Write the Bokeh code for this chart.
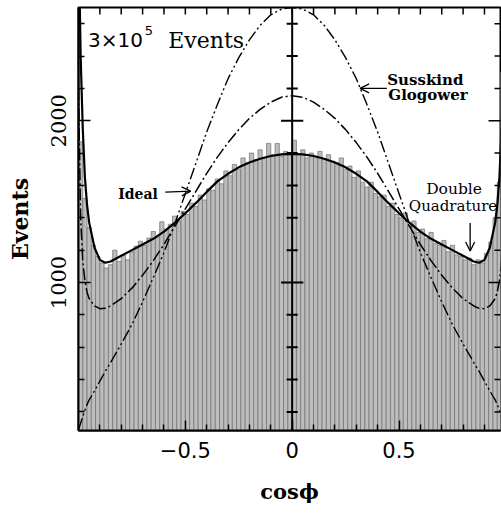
import numpy as np
from bokeh.plotting import figure
from bokeh.models import Range1d, LinearAxis, FixedTicker, Span, Arrow, OpenHead, ColumnDataSource
from bokeh.core.properties import value
from bokeh.embed import file_html
from bokeh.resources import INLINE

# ---------------- data ----------------
# histogram: 100 bins of width 0.02 over cos(phi) in [-1, 1]
bin_centers = list(np.round(np.linspace(-0.99, 0.99, 100), 2))
counts = [1870, 1520, 1340, 1230, 1160, 1120, 1090, 1110, 1200, 1130,
          1170, 1140, 1190, 1225, 1255, 1230, 1275, 1315, 1280, 1375,
          1330, 1360, 1410, 1380, 1440, 1420, 1490, 1470, 1540, 1510,
          1580, 1570, 1640, 1610, 1690, 1660, 1730, 1700, 1770, 1740,
          1800, 1760, 1820, 1770, 1860, 1790, 1860, 1780, 1810, 1800,
          1880, 1790, 1820, 1770, 1800, 1780, 1810, 1760, 1790, 1750,
          1740, 1770, 1700, 1720, 1650, 1690, 1620, 1590, 1620, 1550,
          1530, 1540, 1470, 1490, 1420, 1400, 1430, 1350, 1380, 1310,
          1330, 1270, 1310, 1240, 1230, 1260, 1190, 1230, 1170, 1160,
          1140, 1150, 1110, 1140, 1120, 1180, 1250, 1400, 1620, 2300]

# theory curves sampled at these cos(phi) values
curve_x = [-1.0, -0.99, -0.98, -0.97, -0.96, -0.95, -0.925, -0.9, -0.875, -0.85,
           -0.8, -0.75, -0.7, -0.65, -0.6, -0.55, -0.5, -0.45, -0.4, -0.35,
           -0.3, -0.25, -0.2, -0.15, -0.1, -0.05, 0.0,
           0.05, 0.1, 0.15, 0.2, 0.25, 0.3, 0.35, 0.4, 0.45, 0.5,
           0.55, 0.6, 0.65, 0.7, 0.75, 0.8, 0.85, 0.875, 0.9, 0.925,
           0.95, 0.96, 0.97, 0.98, 0.99, 1.0]

double_quadrature = [3200, 2400, 1950, 1650, 1480, 1370, 1215, 1140, 1122, 1130,
                     1165, 1200, 1235, 1270, 1315, 1368, 1428, 1492, 1560, 1625,
                     1672, 1712, 1742, 1765, 1782, 1792, 1795,
                     1792, 1782, 1765, 1742, 1712, 1672, 1625, 1560, 1492, 1428,
                     1368, 1315, 1270, 1235, 1200, 1165, 1130, 1122, 1140, 1215,
                     1370, 1480, 1650, 1950, 2400, 3200]

ideal = [2200, 1400, 1130, 1010, 940, 900, 855, 838, 840, 855,
         900, 965, 1045, 1135, 1235, 1345, 1455, 1565, 1675, 1775,
         1865, 1945, 2015, 2070, 2115, 2145, 2155,
         2145, 2115, 2070, 2015, 1945, 1865, 1775, 1675, 1565, 1455,
         1345, 1235, 1135, 1045, 965, 900, 855, 840, 838, 855,
         900, 940, 1010, 1130, 1400, 2200]

susskind_glogower = [90, 130, 170, 210, 245, 275, 330, 390, 450, 505,
                     620, 740, 880, 1030, 1185, 1360, 1550, 1740, 1930, 2100,
                     2260, 2390, 2500, 2590, 2655, 2690, 2700,
                     2690, 2655, 2590, 2500, 2390, 2260, 2100, 1930, 1740, 1550,
                     1360, 1185, 1030, 880, 740, 620, 505, 450, 390, 330,
                     275, 245, 210, 170, 130, 90]

x_major = [-0.5, 0.0, 0.5]
x_minor = [-0.9, -0.8, -0.7, -0.6, -0.4, -0.3, -0.2, -0.1,
           0.1, 0.2, 0.3, 0.4, 0.6, 0.7, 0.8, 0.9]
x_labels = {-0.5: "\u22120.5", 0.0: "0", 0.5: "0.5"}
y_major = [1000, 2000]
y_minor = [200, 400, 600, 800, 1200, 1400, 1600, 1800, 2200, 2400, 2600]

X0, X1, Y0, Y1 = -1.0, 0.975, 85, 2700

# ---------------- figure ----------------
p = figure(frame_width=422, frame_height=423,
           x_range=Range1d(X0, X1), y_range=Range1d(Y0, Y1),
           output_backend="svg", toolbar_location=None,
           x_axis_type=None, y_axis_type=None,
           min_border_left=78, min_border_right=1,
           min_border_top=7, min_border_bottom=86)
p.background_fill_color = "white"
p.border_fill_color = "white"
p.outline_line_color = "black"
p.outline_line_width = 2

# histogram bars
p.vbar(x=bin_centers, top=counts, bottom=0, width=0.02,
       fill_color="#bdbdbd", line_color="#6f6f6f", line_width=0.7)

# center vertical axis line with crossing ticks
p.add_layout(Span(location=0, dimension="height", line_color="black", line_width=2))
cmaj = ColumnDataSource(dict(y=y_major))
cmin = ColumnDataSource(dict(y=y_minor))
p.segment(x0=-0.052, x1=0.052, y0="y", y1="y", source=cmaj, line_color="black", line_width=2)
p.segment(x0=-0.026, x1=0.026, y0="y", y1="y", source=cmin, line_color="black", line_width=2)

# inward ticks on the top and right borders (mirrors of bottom/left ticks)
top_src = ColumnDataSource(dict(x=x_major + x_minor))
p.segment(x0="x", x1="x", y0=Y1, y1=Y1 - 43, source=top_src, line_color="black", line_width=1.5)
p.segment(x0=X1 - 0.056, x1=X1, y0="y", y1="y", source=cmaj, line_color="black", line_width=1.5)
p.segment(x0=X1 - 0.028, x1=X1, y0="y", y1="y", source=cmin, line_color="black", line_width=1.5)

# curves
p.line(curve_x, double_quadrature, line_color="black", line_width=2.2)
p.line(curve_x, ideal, line_color="black", line_width=1.5, line_dash="12 3 2 3")
p.line(curve_x, susskind_glogower, line_color="black", line_width=1.4, line_dash="12 3 2 3 2 3")

# ---------------- axes ----------------
xb = LinearAxis(ticker=FixedTicker(ticks=x_major, minor_ticks=x_minor))
xb.major_label_overrides = x_labels
xb.major_tick_in = 10
xb.major_tick_out = 0
xb.minor_tick_in = 6
xb.minor_tick_out = 0
xb.axis_line_width = 2
xb.major_tick_line_width = 1.5
xb.minor_tick_line_width = 1.5
xb.major_label_text_font = "DejaVu Sans"
xb.major_label_text_font_size = "21px"
xb.major_label_text_color = "black"
xb.major_label_standoff = 11
xb.axis_label = "cos\u03d5"
xb.axis_label_text_font = "DejaVu Serif"
xb.axis_label_text_font_style = "bold"
xb.axis_label_text_font_size = "21px"
xb.axis_label_text_color = "black"
xb.axis_label_standoff = 18
p.add_layout(xb, "below")

yl = LinearAxis(ticker=FixedTicker(ticks=y_major, minor_ticks=y_minor))
yl.major_tick_in = 12
yl.major_tick_out = 0
yl.minor_tick_in = 6
yl.minor_tick_out = 0
yl.axis_line_width = 2
yl.major_tick_line_width = 1.5
yl.minor_tick_line_width = 1.5
yl.major_label_orientation = "vertical"
yl.major_label_text_font = "DejaVu Serif"
yl.major_label_text_font_size = "21px"
yl.major_label_text_color = "black"
yl.major_label_standoff = 12
yl.axis_label = "Events"
yl.axis_label_text_font = "DejaVu Serif"
yl.axis_label_text_font_style = "bold"
yl.axis_label_text_font_size = "22px"
yl.axis_label_text_color = "black"
yl.axis_label_standoff = 16
p.add_layout(yl, "left")

# ---------------- annotations ----------------
p.text(x=[-0.955], y=[2496], text=["3\u00d710"], text_font=value("DejaVu Sans"),
       text_font_size=value("20px"), text_baseline="alphabetic", text_align="left", text_color="black")
p.text(x=[-0.69], y=[2560], text=["5"], text_font=value("DejaVu Sans"),
       text_font_size=value("13px"), text_baseline="alphabetic", text_align="left", text_color="black")
p.text(x=[-0.58], y=[2496], text=["Events"], text_font=value("DejaVu Serif"),
       text_font_size=value("22px"), text_baseline="alphabetic", text_align="left", text_color="black")

p.text(x=[-0.814], y=[1550], text=["Ideal"], text_font=value("DejaVu Serif"),
       text_font_style="bold", text_font_size=value("14px"), text_baseline="alphabetic",
       text_align="left", text_color="black")
p.add_layout(Arrow(end=OpenHead(size=9, line_width=1.3), x_start=-0.594, y_start=1559,
                   x_end=-0.475, y_end=1565, line_width=1.3, line_color="black"))

p.text(x=[0.445], y=[2249], text=["Susskind"], text_font=value("DejaVu Serif"),
       text_font_style="bold", text_font_size=value("15px"), text_baseline="alphabetic",
       text_align="left", text_color="black")
p.text(x=[0.45], y=[2162], text=["Glogower"], text_font=value("DejaVu Serif"),
       text_font_style="bold", text_font_size=value("15px"), text_baseline="alphabetic",
       text_align="left", text_color="black")
p.add_layout(Arrow(end=OpenHead(size=9, line_width=1.3), x_start=0.443, y_start=2200,
                   x_end=0.318, y_end=2200, line_width=1.3, line_color="black"))

p.text(x=[0.627], y=[1581], text=["Double"], text_font=value("DejaVu Serif"),
       text_font_size=value("15.5px"), text_baseline="alphabetic", text_align="left", text_color="black")
p.text(x=[0.546], y=[1470], text=["Quadrature"], text_font=value("DejaVu Serif"),
       text_font_size=value("15px"), text_baseline="alphabetic", text_align="left", text_color="black")
p.add_layout(Arrow(end=OpenHead(size=9, line_width=1.3), x_start=0.833, y_start=1368,
                   x_end=0.833, y_end=1195, line_width=1.3, line_color="black"))

open("out.html", "w").write(file_html(p, INLINE))
